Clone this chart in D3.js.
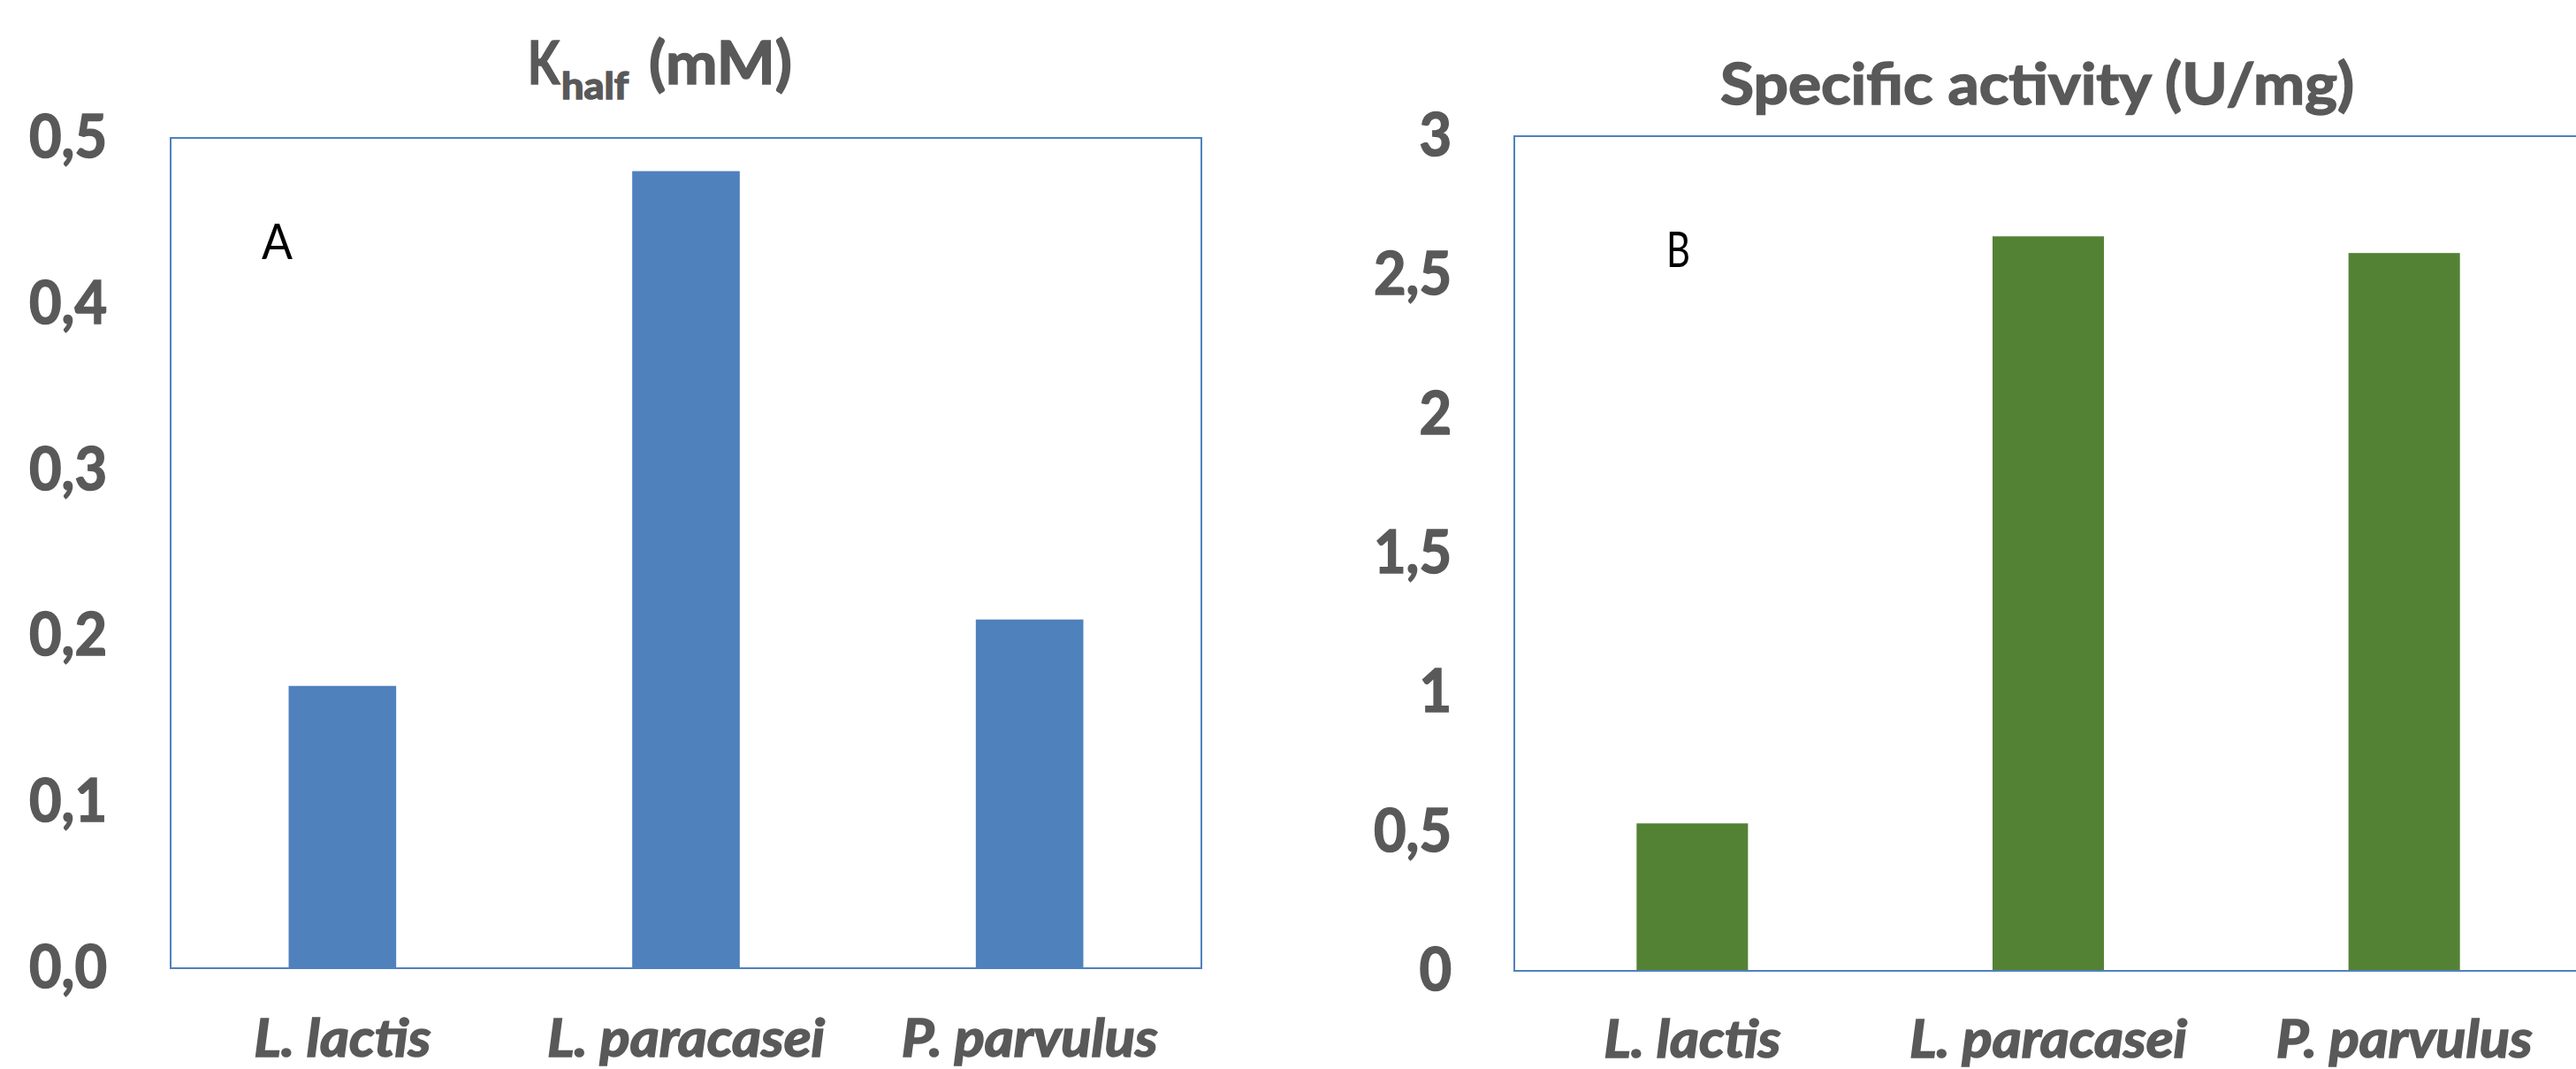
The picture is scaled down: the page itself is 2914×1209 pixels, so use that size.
<!DOCTYPE html>
<html>
<head>
<meta charset="utf-8">
<script src="https://cdn.jsdelivr.net/npm/d3@7"></script>
<style>
  html, body { margin: 0; padding: 0; background: #fff; overflow: hidden; }
  svg text { font-family: Lato, "Open Sans", "DejaVu Sans", sans-serif; }
  svg text.heavy { stroke: #595959; stroke-width: 1.6px; paint-order: stroke fill; }
</style>
</head>
<body>
<svg id="chart" width="2914" height="1209"></svg>
<script>
// Strains compared in both panels
const strains = ["L. lactis", "L. paracasei", "P. parvulus"];

// Panel A: half-saturation constant (mM)
const khalfValues = [0.17, 0.48, 0.21];
const khalfTicks = [0, 0.1, 0.2, 0.3, 0.4, 0.5];
const khalfTickLabels = ["0,0", "0,1", "0,2", "0,3", "0,4", "0,5"];

// Panel B: specific activity (U/mg)
const activityValues = [0.53, 2.64, 2.58];
const activityTicks = [0, 0.5, 1, 1.5, 2, 2.5, 3];
const activityTickLabels = ["0", "0,5", "1", "1,5", "2", "2,5", "3"];

const TEXT_GREY = "#595959";
const FRAME = "#4F81BD";

const svg = d3.select("#chart");
svg.append("rect").attr("width", 2914).attr("height", 1209).attr("fill", "#fff");

// Squeeze/stretch a text element horizontally so it spans a given width
function fitWidth(node, width) {
  node.setAttribute("textLength", width);
  node.setAttribute("lengthAdjust", "spacingAndGlyphs");
}

function drawPanel(cfg) {
  const g = svg.append("g");
  const x = d3.scaleBand()
    .domain(strains)
    .range([cfg.left, cfg.right])
    .paddingInner(0.687)
    .paddingOuter(0.687 / 2);
  const y = d3.scaleLinear()
    .domain([0, cfg.max])
    .range([cfg.bottom, cfg.top]);

  // bars
  g.selectAll("rect.bar")
    .data(strains.map((s, i) => ({ s, v: cfg.values[i] })))
    .join("rect")
    .attr("class", "bar")
    .attr("x", d => x(d.s))
    .attr("width", x.bandwidth())
    .attr("y", d => y(d.v))
    .attr("height", d => y(0) - y(d.v))
    .attr("fill", cfg.color);

  // plot frame
  g.append("rect")
    .attr("x", cfg.left)
    .attr("y", cfg.top)
    .attr("width", cfg.right - cfg.left)
    .attr("height", cfg.bottom - cfg.top)
    .attr("fill", "none")
    .attr("stroke", FRAME)
    .attr("stroke-width", 2);

  // value axis
  const yAxis = d3.axisLeft(y)
    .tickValues(cfg.ticks)
    .tickFormat((d, i) => cfg.tickLabels[i])
    .tickSize(0)
    .tickPadding(cfg.left - cfg.labelRight);
  const ya = g.append("g").attr("transform", `translate(${cfg.left},0)`).call(yAxis);
  ya.select(".domain").remove();
  ya.selectAll("text")
    .attr("class", "heavy")
    .attr("font-family", "Lato, 'Open Sans', sans-serif")
    .attr("font-size", 67)
    .attr("font-weight", 700)
    .attr("fill", TEXT_GREY)
    .attr("dy", "0.32em");
  // uniform horizontal scaling so that "0,5" is ~88px wide
  let ref = null;
  ya.selectAll("text").each(function () { if (this.textContent === "0,5") ref = this; });
  const tickScale = 88 / ref.getComputedTextLength();
  ya.selectAll("text").each(function () { fitWidth(this, this.getComputedTextLength() * tickScale); });

  // category axis
  const xAxis = d3.axisBottom(x).tickSize(0).tickPadding(0);
  const xa = g.append("g").attr("transform", `translate(0,${cfg.bottom})`).call(xAxis);
  xa.select(".domain").remove();
  xa.selectAll("text")
    .attr("class", "heavy")
    .attr("font-family", "Lato, 'Open Sans', sans-serif")
    .attr("font-size", 59)
    .attr("font-weight", 700)
    .attr("font-style", "italic")
    .attr("fill", TEXT_GREY)
    .attr("y", cfg.catBaseline)
    .attr("dy", 0);
  let catRef = null;
  xa.selectAll("text").each(function () { if (this.textContent === "P. parvulus") catRef = this; });
  const catScale = 290 / catRef.getComputedTextLength();
  xa.selectAll("text").each(function () { fitWidth(this, this.getComputedTextLength() * catScale); });

  // panel letter
  const letter = g.append("text")
    .attr("x", cfg.letterX)
    .attr("y", cfg.letterY)
    .attr("font-size", cfg.letterSize)
    .attr("fill", "#000")
    .text(cfg.letter);
  fitWidth(letter.node(), cfg.letterW);

  return g;
}

const panelA = drawPanel({
  left: 193, right: 1359, top: 156, bottom: 1095,
  max: 0.5, values: khalfValues, ticks: khalfTicks, tickLabels: khalfTickLabels,
  labelRight: 121, catBaseline: 100, color: "#4F81BD",
  letter: "A", letterX: 296, letterY: 293, letterSize: 57, letterW: 35
});

const panelB = drawPanel({
  left: 1713, right: 2921, top: 154, bottom: 1098,
  max: 3, values: activityValues, ticks: activityTicks, tickLabels: activityTickLabels,
  labelRight: 1642, catBaseline: 98, color: "#548235",
  letter: "B", letterX: 1885, letterY: 302, letterSize: 56, letterW: 27
});

// Panel titles
const titleA = svg.append("g")
  .attr("font-weight", 700)
  .attr("fill", TEXT_GREY);
const tK = titleA.append("text").attr("class", "heavy").attr("x", 597).attr("y", 95).attr("font-size", 66).text("K");
fitWidth(tK.node(), 36);
const tHalf = titleA.append("text").attr("class", "heavy").attr("x", 635).attr("y", 112).attr("font-size", 42).text("half");
fitWidth(tHalf.node(), 76);
const tUnit = titleA.append("text").attr("class", "heavy").attr("x", 734).attr("y", 95).attr("font-size", 66).text("(mM)");
fitWidth(tUnit.node(), 162);

const titleB = svg.append("text")
  .attr("class", "heavy")
  .attr("x", 1946).attr("y", 118)
  .attr("font-size", 65)
  .attr("font-weight", 700)
  .attr("fill", TEXT_GREY)
  .text("Specific activity (U/mg)");
fitWidth(titleB.node(), 717);
</script>
</body>
</html>
